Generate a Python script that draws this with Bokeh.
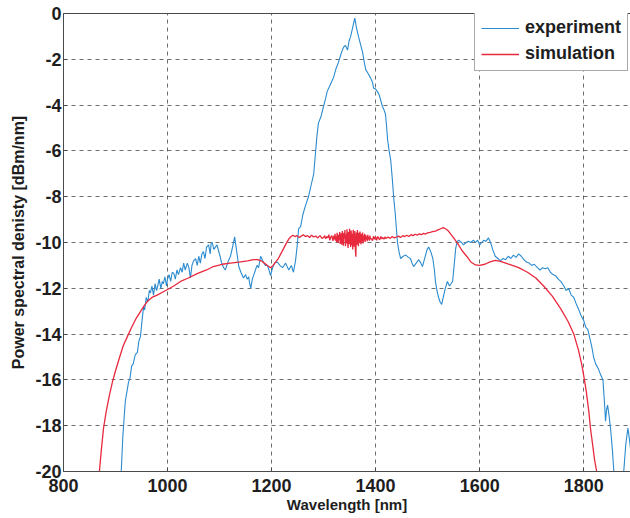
from bokeh.plotting import figure
from bokeh.models import LinearAxis, FixedTicker, Legend, LegendItem, Range1d, PrintfTickFormatter
from bokeh.embed import file_html
from bokeh.resources import INLINE

# ---------------- data ----------------
exp_wl = [911, 914, 917, 919, 922, 925, 928, 931, 934, 938, 942, 945, 948, 951, 954, 956, 959, 962, 965, 967,
          970, 973, 976, 979, 981, 984, 987, 990, 992, 995, 998, 1000, 1003, 1006, 1009, 1012, 1015, 1018, 1021, 1025,
          1028, 1031, 1034, 1038, 1041, 1044, 1047, 1050, 1054, 1057, 1060, 1063, 1066, 1069, 1072, 1075, 1079, 1082, 1084, 1086,
          1089, 1092, 1095, 1098, 1101, 1104, 1108, 1111, 1114, 1117, 1121, 1125, 1129, 1133, 1137, 1141, 1146, 1150, 1153, 1156,
          1158, 1160, 1163, 1166, 1169, 1172, 1175, 1179, 1183, 1188, 1192, 1195, 1198, 1202, 1206, 1211, 1216, 1221, 1227, 1233,
          1238, 1242, 1246, 1249, 1252, 1256, 1260, 1265, 1271, 1276, 1281, 1284, 1287, 1290, 1295, 1300, 1304, 1307, 1313, 1319,
          1324, 1329, 1333, 1336, 1339, 1342, 1346, 1349, 1352, 1355, 1358, 1360, 1363, 1367, 1371, 1375, 1378, 1381, 1385, 1390,
          1394, 1396, 1400, 1406, 1410, 1413, 1416, 1419, 1421, 1423, 1426, 1429, 1432, 1435, 1438, 1440, 1442, 1445, 1448, 1453,
          1458, 1463, 1467, 1470, 1473, 1478, 1483, 1487, 1490, 1493, 1496, 1499, 1502, 1506, 1510, 1513, 1515, 1518, 1521, 1524,
          1527, 1530, 1534, 1538, 1542, 1545, 1548, 1551, 1554, 1557, 1560, 1565, 1569, 1574, 1578, 1583, 1588, 1592, 1596, 1600,
          1604, 1608, 1612, 1617, 1621, 1625, 1630, 1635, 1640, 1645, 1650, 1655, 1660, 1665, 1670, 1675, 1680, 1685, 1690, 1695,
          1700, 1705, 1711, 1716, 1721, 1726, 1731, 1736, 1741, 1746, 1751, 1756, 1762, 1766, 1771, 1776, 1781, 1786, 1790, 1795,
          1800, 1804, 1808, 1812, 1816, 1819, 1823, 1828, 1833, 1837, 1840, 1842, 1844, 1846, 1849, 1852, 1855, 1858, 1864, 1872,
          1877, 1881, 1885, 1888, 1891]
exp_db = [-20.0, -18.5, -17.5, -16.9, -16.5, -16.1, -15.9, -15.4, -15.3, -14.9, -14.8, -14.3, -14.1, -13.4, -12.8, -12.95, -12.4, -12.6, -12.1, -12.2,
          -11.9, -12.3, -11.8, -12.1, -11.9, -11.6, -12.0, -11.7, -11.8, -11.5, -11.9, -11.6, -11.4, -11.7, -11.3, -11.35, -11.6, -11.2, -11.4, -11.1,
          -11.3, -10.9, -11.2, -10.9, -11.1, -11.55, -11.0, -10.8, -10.7, -11.0, -10.6, -10.9, -10.5, -10.4, -10.7, -10.2, -10.1, -10.5, -10.0, -10.0,
          -10.3, -10.2, -10.1, -10.35, -10.6, -10.9, -11.1, -11.2, -11.0, -10.8, -10.6, -10.2, -9.75, -10.4, -11.05, -11.3, -11.55, -11.4, -11.6, -11.5,
          -11.8, -12.0, -11.6, -11.4, -11.2, -11.0, -11.1, -10.6, -10.8, -11.0, -11.0, -11.2, -11.45, -11.1, -10.9, -10.85, -11.0, -11.1, -10.9, -11.2,
          -11.0, -11.3, -10.8, -10.2, -9.4, -9.3, -8.8, -8.4, -8.0, -7.5, -7.0, -6.2, -5.4, -4.8, -4.5, -4.05, -3.7, -3.4, -3.1, -2.8,
          -2.4, -2.1, -1.8, -1.6, -1.45, -1.4, -1.6, -1.2, -1.0, -0.7, -0.4, -0.2, -0.6, -1.0, -1.35, -1.7, -2.1, -2.45, -2.6, -2.8,
          -3.0, -3.25, -3.3, -3.5, -3.8, -4.05, -4.2, -4.4, -4.9, -5.5, -6.0, -6.4, -7.2, -8.1, -8.8, -9.4, -10.0, -10.4, -10.7, -10.6,
          -10.55, -10.65, -10.7, -10.9, -11.05, -10.9, -10.75, -10.9, -11.05, -10.8, -10.55, -10.3, -10.2, -10.4, -10.7, -11.2, -11.7, -12.1, -12.4, -12.6,
          -12.7, -12.4, -12.0, -11.7, -11.9, -11.8, -11.7, -11.0, -10.25, -9.95, -9.9, -10.0, -10.1, -10.0, -9.95, -10.0, -9.9, -10.0, -9.9, -10.1,
          -10.0, -9.9, -9.95, -9.8, -10.0, -10.3, -10.6, -10.7, -10.8, -10.7, -10.75, -10.6, -10.7, -10.55, -10.65, -10.5, -10.6, -10.75, -10.85, -10.9,
          -11.0, -10.95, -11.1, -11.2, -11.1, -11.15, -11.1, -11.3, -11.4, -11.45, -11.6, -11.7, -11.9, -12.1, -12.0, -12.3, -12.4, -12.7, -12.9, -13.2,
          -13.4, -13.7, -13.8, -14.2, -14.6, -15.0, -15.3, -15.5, -15.8, -16.0, -17.0, -17.8, -17.3, -17.1, -17.6, -18.2, -19.0, -20.0, -21.5, -21.5,
          -20.0, -18.8, -18.1, -18.6, -19.2]

sim_wl = [869, 873, 877, 882, 888, 894, 900, 908, 915, 923, 931, 940, 947, 954, 962, 970, 980, 992, 1000, 1012,
          1025, 1040, 1058, 1075, 1088, 1105, 1121, 1140, 1154, 1165, 1173, 1180, 1186, 1192, 1198, 1203, 1208, 1213, 1220, 1228,
          1233, 1237, 1241, 1245, 1249, 1253, 1257, 1261, 1265, 1269, 1273, 1277, 1281, 1285, 1289, 1293, 1297,
          1300, 1302, 1304, 1306, 1308, 1310, 1312, 1314, 1316, 1318,
          1320, 1321, 1322, 1323, 1324, 1325, 1326, 1327, 1328, 1329, 1330, 1331, 1332, 1333, 1334, 1335, 1336, 1337, 1338, 1339,
          1340, 1341, 1342, 1343, 1344, 1345, 1346, 1347, 1348, 1349, 1350, 1351, 1352, 1353, 1354, 1355, 1356, 1357, 1358, 1359,
          1360, 1361, 1362, 1363, 1364, 1365, 1366, 1367, 1368, 1369, 1370, 1371, 1372, 1373, 1374, 1375, 1376, 1377, 1378, 1379,
          1380, 1381, 1382, 1383, 1384, 1385, 1386, 1387, 1388, 1389, 1390,
          1392, 1394, 1396, 1398, 1400, 1402, 1404, 1406, 1408, 1410, 1412, 1414, 1416, 1418,
          1420, 1424, 1428, 1432, 1436, 1440, 1444, 1448, 1452, 1456, 1460, 1464, 1468, 1472, 1476, 1480, 1484, 1488, 1492, 1496,
          1500, 1505, 1510, 1515, 1520, 1525, 1530, 1536, 1540, 1550, 1558, 1566, 1575, 1583, 1592, 1600, 1610, 1620, 1630, 1640,
          1650, 1660, 1675, 1692, 1708, 1723, 1740, 1756, 1770, 1781, 1790, 1796, 1800, 1805, 1810, 1813, 1817, 1821, 1825]
sim_db = [-20.0, -19.0, -18.1, -17.4, -16.7, -16.1, -15.6, -15.0, -14.5, -14.1, -13.7, -13.3, -13.05, -12.8, -12.55, -12.4, -12.3, -12.15, -12.05, -11.9,
          -11.7, -11.55, -11.35, -11.2, -11.05, -10.95, -10.9, -10.85, -10.8, -10.75, -10.75, -10.8, -10.9, -11.0, -11.1, -11.0, -10.85, -10.7, -10.4, -10.05,
          -9.85, -9.75, -9.68, -9.74, -9.70, -9.78, -9.72, -9.66, -9.74, -9.70, -9.78, -9.68, -9.76, -9.72, -9.80, -9.70, -9.82,
          -9.78, -9.70, -9.84, -9.74, -9.80, -9.66, -9.90, -9.76, -9.70, -9.93,
          -9.70, -9.86, -9.62, -9.92, -9.74, -9.98, -9.58, -9.84, -10.02, -9.66, -9.90, -9.54, -10.06, -9.72, -9.60, -10.10, -9.50, -9.94, -10.14, -9.58,
          -9.82, -9.46, -10.16, -9.64, -10.04, -9.42, -9.90, -10.24, -9.54, -10.08, -9.40, -9.76, -10.20, -9.48, -10.12, -9.62, -10.30, -9.44, -9.96, -10.18,
          -9.50, -10.28, -10.62, -9.56, -10.10, -9.46, -9.92, -10.16, -9.58, -10.02, -9.52, -9.88, -10.08, -9.62, -9.96, -9.56, -10.04, -9.70, -9.92, -9.62,
          -9.98, -9.68, -9.88, -9.74, -9.94, -9.66, -9.86, -9.76, -9.92, -9.70, -9.84,
          -9.84, -9.92, -9.72, -9.86, -9.76, -9.90, -9.74, -9.82, -9.88, -9.74, -9.84, -9.78, -9.86, -9.76,
          -9.82, -9.76, -9.82, -9.74, -9.80, -9.76, -9.72, -9.78, -9.70, -9.74, -9.68, -9.74, -9.66, -9.70, -9.64, -9.68, -9.62, -9.66, -9.60, -9.63,
          -9.58, -9.56, -9.52, -9.50, -9.45, -9.40, -9.35, -9.42, -9.50, -9.80, -10.05, -10.35, -10.6, -10.85, -10.98, -11.0, -10.95, -10.85, -10.78, -10.82,
          -10.9, -10.98, -11.1, -11.3, -11.55, -11.9, -12.35, -12.9, -13.45, -14.0, -14.7, -15.3, -15.8, -16.5, -17.4, -18.1, -18.8, -19.5, -20.0]

x_ticks = [800, 1000, 1200, 1400, 1600, 1800]
y_ticks = [-20, -18, -16, -14, -12, -10, -8, -6, -4, -2, 0]
series_names = ["experiment", "simulation"]

# ---------------- figure ----------------
FONT = "Liberation Sans"
p = figure(width=630, height=518, output_backend="svg", toolbar_location=None,
           x_range=Range1d(800, 1890), y_range=Range1d(-20, 0),
           min_border_left=63, min_border_right=0, min_border_top=13, min_border_bottom=47)
p.background_fill_color = "white"
p.border_fill_color = "white"
p.outline_line_color = None

for ax in (p.xaxis[0], p.yaxis[0]):
    ax.major_label_text_font = FONT
    ax.major_label_text_font_style = "bold"
    ax.major_label_text_font_size = "18px"
    ax.major_label_text_color = "#1e1e1e"
    ax.axis_label_text_font = FONT
    ax.axis_label_text_font_style = "bold"
    ax.axis_label_text_color = "#1e1e1e"
    ax.axis_line_color = "#4a4a4a"
    ax.major_tick_line_color = "#4a4a4a"
    ax.major_tick_in = 4
    ax.major_tick_out = 0
    ax.minor_tick_line_color = None
    ax.formatter = PrintfTickFormatter(format="%d")

p.xaxis[0].ticker = FixedTicker(ticks=x_ticks)
p.yaxis[0].ticker = FixedTicker(ticks=y_ticks)
p.xaxis[0].axis_label = "Wavelength [nm]"
p.yaxis[0].axis_label = "Power spectral denisty [dBm/nm]"
p.xaxis[0].axis_label_text_font_size = "15px"
p.yaxis[0].axis_label_text_font_size = "16px"
p.xaxis[0].major_label_standoff = 7
p.xaxis[0].axis_label_standoff = 1
p.yaxis[0].major_label_standoff = 2
p.yaxis[0].axis_label_standoff = 5

top = LinearAxis(ticker=FixedTicker(ticks=[]), axis_line_color="#4a4a4a",
                 major_tick_line_color=None, minor_tick_line_color=None,
                 major_label_text_font_size="0px")
p.add_layout(top, "above")

p.xgrid.ticker = FixedTicker(ticks=x_ticks)
p.ygrid.ticker = FixedTicker(ticks=y_ticks)
for g in (p.xgrid[0], p.ygrid[0]):
    g.grid_line_color = "#3c3c3c"
    g.grid_line_alpha = 0.75
    g.grid_line_dash = "4 4"
    g.grid_line_width = 1

r_exp = p.line(exp_wl, exp_db, line_color="#2b8bcf", line_width=1.1)
r_sim = p.line(sim_wl, sim_db, line_color="#e8283c", line_width=1.3)

legend = Legend(items=[LegendItem(label=series_names[0], renderers=[r_exp]),
                       LegendItem(label=series_names[1], renderers=[r_sim])],
                location=(411, 400))
legend.label_text_font = FONT
legend.label_text_font_style = "bold"
legend.label_text_font_size = "18px"
legend.label_text_color = "#1e1e1e"
legend.glyph_width = 38
legend.glyph_height = 18
legend.label_height = 18
legend.label_standoff = 6
legend.spacing = 5
legend.padding = 6
legend.margin = 0
legend.border_line_color = "#555555"
legend.border_line_width = 1
legend.background_fill_color = "white"
legend.background_fill_alpha = 1.0
p.add_layout(legend)

open("out.html", "w").write(file_html(p, INLINE))
